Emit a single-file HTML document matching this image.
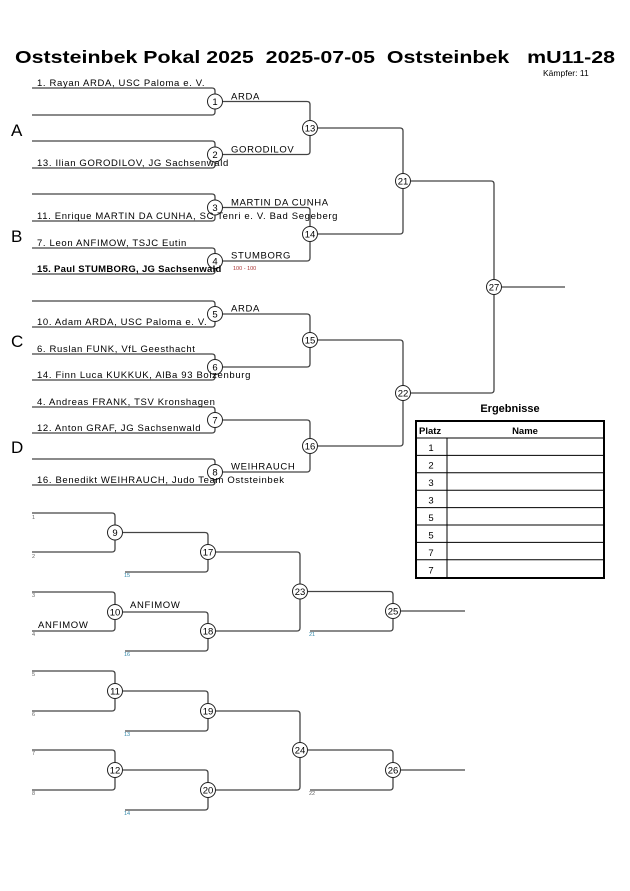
<!DOCTYPE html>
<html><head><meta charset="utf-8"><style>
html,body{margin:0;padding:0;background:#fff;}
svg{display:block;font-family:"Liberation Sans",sans-serif;}
</style></head><body>
<svg width="630" height="891" viewBox="0 0 630 891" xmlns="http://www.w3.org/2000/svg">
<text x="15" y="63" font-size="17.5" font-weight="bold" textLength="600" lengthAdjust="spacingAndGlyphs" xml:space="preserve">Oststeinbek Pokal 2025  2025-07-05  Oststeinbek   mU11-28</text>
<text x="543" y="76" font-size="8.5">Kämpfer: 11</text>

<g fill="none" stroke="#444" stroke-width="1.3">
<path d="M32 88 H212 Q215 88 215 91 V112 Q215 115 212 115 H32"/>
<path d="M32 141 H212 Q215 141 215 144 V165 Q215 168 212 168 H32"/>
<path d="M32 194 H212 Q215 194 215 197 V218 Q215 221 212 221 H32"/>
<path d="M32 248 H212 Q215 248 215 251 V271 Q215 274 212 274 H32"/>
<path d="M32 301 H212 Q215 301 215 304 V324 Q215 327 212 327 H32"/>
<path d="M32 354 H212 Q215 354 215 357 V377 Q215 380 212 380 H32"/>
<path d="M32 407 H212 Q215 407 215 410 V430 Q215 433 212 433 H32"/>
<path d="M32 459 H212 Q215 459 215 462 V482 Q215 485 212 485 H32"/>
<path d="M222 101.5 H307 Q310 101.5 310 104.5 V151.5 Q310 154.5 307 154.5 H222"/>
<path d="M222 207.5 H307 Q310 207.5 310 210.5 V258 Q310 261 307 261 H222"/>
<path d="M222 314 H307 Q310 314 310 317 V364 Q310 367 307 367 H222"/>
<path d="M222 420 H307 Q310 420 310 423 V469 Q310 472 307 472 H222"/>
<path d="M317 128 H400 Q403 128 403 131 V231 Q403 234 400 234 H317"/>
<path d="M317 340 H400 Q403 340 403 343 V443 Q403 446 400 446 H317"/>
<path d="M411 181 H491 Q494 181 494 184 V390 Q494 393 491 393 H411"/>
<path d="M502 287 H565"/>

<path d="M32 513 H112 Q115 513 115 516 V549 Q115 552 112 552 H32"/>
<path d="M32 592 H112 Q115 592 115 595 V628 Q115 631 112 631 H32"/>
<path d="M32 671 H112 Q115 671 115 674 V708 Q115 711 112 711 H32"/>
<path d="M32 750 H112 Q115 750 115 753 V787 Q115 790 112 790 H32"/>
<path d="M123 532.5 H205 Q208 532.5 208 535.5 V569 Q208 572 205 572 H125"/>
<path d="M123 612 H205 Q208 612 208 615 V648 Q208 651 205 651 H125"/>
<path d="M123 691 H205 Q208 691 208 694 V728 Q208 731 205 731 H125"/>
<path d="M123 770 H205 Q208 770 208 773 V807 Q208 810 205 810 H125"/>
<path d="M216 552 H297 Q300 552 300 555 V628 Q300 631 297 631 H216"/>
<path d="M216 711 H297 Q300 711 300 714 V787 Q300 790 297 790 H216"/>
<path d="M308 591.5 H390 Q393 591.5 393 594.5 V628 Q393 631 390 631 H310"/>
<path d="M308 750 H390 Q393 750 393 753 V787 Q393 790 390 790 H310"/>
<path d="M401 611 H465"/>
<path d="M401 770 H465"/>
</g>

<g fill="#fff" stroke="#222" stroke-width="1">
<circle cx="215" cy="101.5" r="7.5"/><circle cx="215" cy="154.5" r="7.5"/>
<circle cx="215" cy="207.5" r="7.5"/><circle cx="215" cy="261" r="7.5"/>
<circle cx="215" cy="314" r="7.5"/><circle cx="215" cy="367" r="7.5"/>
<circle cx="215" cy="420" r="7.5"/><circle cx="215" cy="472" r="7.5"/>
<circle cx="310" cy="128" r="7.5"/><circle cx="310" cy="234" r="7.5"/>
<circle cx="310" cy="340" r="7.5"/><circle cx="310" cy="446" r="7.5"/>
<circle cx="403" cy="181" r="7.5"/><circle cx="403" cy="393" r="7.5"/>
<circle cx="494" cy="287" r="7.5"/>
<circle cx="115" cy="532.5" r="7.5"/><circle cx="115" cy="612" r="7.5"/>
<circle cx="115" cy="691" r="7.5"/><circle cx="115" cy="770" r="7.5"/>
<circle cx="208" cy="552" r="7.5"/><circle cx="208" cy="631" r="7.5"/>
<circle cx="208" cy="711" r="7.5"/><circle cx="208" cy="790" r="7.5"/>
<circle cx="300" cy="591.5" r="7.5"/><circle cx="300" cy="750" r="7.5"/>
<circle cx="393" cy="611" r="7.5"/><circle cx="393" cy="770" r="7.5"/>
</g>
<g font-size="9.5" text-anchor="middle" fill="#000">
<text x="215" y="105">1</text><text x="215" y="158">2</text>
<text x="215" y="211">3</text><text x="215" y="264.5">4</text>
<text x="215" y="317.5">5</text><text x="215" y="370.5">6</text>
<text x="215" y="423.5">7</text><text x="215" y="475.5">8</text>
<text x="310" y="131.5">13</text><text x="310" y="237.5">14</text>
<text x="310" y="343.5">15</text><text x="310" y="449.5">16</text>
<text x="403" y="184.5">21</text><text x="403" y="396.5">22</text>
<text x="494" y="290.5">27</text>
<text x="115" y="536">9</text><text x="115" y="615.5">10</text>
<text x="115" y="694.5">11</text><text x="115" y="773.5">12</text>
<text x="208" y="555.5">17</text><text x="208" y="634.5">18</text>
<text x="208" y="714.5">19</text><text x="208" y="793.5">20</text>
<text x="300" y="595">23</text><text x="300" y="753.5">24</text>
<text x="393" y="614.5">25</text><text x="393" y="773.5">26</text>
</g>

<g font-size="17">
<text x="11" y="136">A</text><text x="11" y="242">B</text>
<text x="11" y="347">C</text><text x="11" y="453">D</text>
</g>

<g font-size="9.5" fill="#000" letter-spacing="0.65">
<text x="37" y="86">1. Rayan ARDA, USC Paloma e. V.</text>
<text x="37" y="166">13. Ilian GORODILOV, JG Sachsenwald</text>
<text x="37" y="219">11. Enrique MARTIN DA CUNHA, SC Tenri e. V. Bad Segeberg</text>
<text x="37" y="246">7. Leon ANFIMOW, TSJC Eutin</text>
<text x="37" y="272" font-weight="bold" letter-spacing="0.3">15. Paul STUMBORG, JG Sachsenwald</text>
<text x="37" y="325">10. Adam ARDA, USC Paloma e. V.</text>
<text x="37" y="352">6. Ruslan FUNK, VfL Geesthacht</text>
<text x="37" y="378">14. Finn Luca KUKKUK, AlBa 93 Boizenburg</text>
<text x="37" y="405">4. Andreas FRANK, TSV Kronshagen</text>
<text x="37" y="431">12. Anton GRAF, JG Sachsenwald</text>
<text x="37" y="483">16. Benedikt WEIHRAUCH, Judo Team Oststeinbek</text>
<text x="231" y="99.5">ARDA</text>
<text x="231" y="152.5">GORODILOV</text>
<text x="231" y="205.5">MARTIN DA CUNHA</text>
<text x="231" y="258.5">STUMBORG</text>
<text x="231" y="311.5">ARDA</text>
<text x="231" y="469.5">WEIHRAUCH</text>
<text x="38" y="628">ANFIMOW</text>
<text x="130" y="608">ANFIMOW</text>
</g>
<text x="233" y="270" font-size="5.5" fill="#a33">100 - 100</text>

<g font-size="5.5" fill="#666">
<text x="32" y="519">1</text><text x="32" y="558">2</text>
<text x="32" y="597">3</text><text x="32" y="636">4</text>
<text x="32" y="676">5</text><text x="32" y="716">6</text>
<text x="32" y="755">7</text><text x="32" y="795">8</text>
<text x="124" y="577" fill="#38a">15</text><text x="124" y="656" fill="#38a">16</text>
<text x="124" y="736" fill="#38a">13</text><text x="124" y="815" fill="#38a">14</text>
<text x="309" y="636" fill="#38a">21</text><text x="309" y="795">22</text>
</g>

<text x="510" y="412" font-size="11" font-weight="bold" text-anchor="middle">Ergebnisse</text>
<g stroke="#000" fill="none">
<rect x="416" y="421" width="188" height="157" stroke-width="2"/>
<path d="M447 438 V578" stroke-width="1"/>
<path d="M416 438 H604 M416 455.4 H604 M416 472.8 H604 M416 490.2 H604 M416 507.6 H604 M416 525 H604 M416 542.4 H604 M416 559.8 H604" stroke-width="1"/>
</g>
<text x="419" y="434" font-size="9.5" font-weight="bold">Platz</text>
<text x="525" y="434" font-size="9.5" font-weight="bold" text-anchor="middle">Name</text>
<g font-size="9.5" text-anchor="middle">
<text x="431" y="451">1</text><text x="431" y="468.5">2</text>
<text x="431" y="486">3</text><text x="431" y="503.5">3</text>
<text x="431" y="521">5</text><text x="431" y="538.5">5</text>
<text x="431" y="556">7</text><text x="431" y="573.5">7</text>
</g>
</svg>
</body></html>
